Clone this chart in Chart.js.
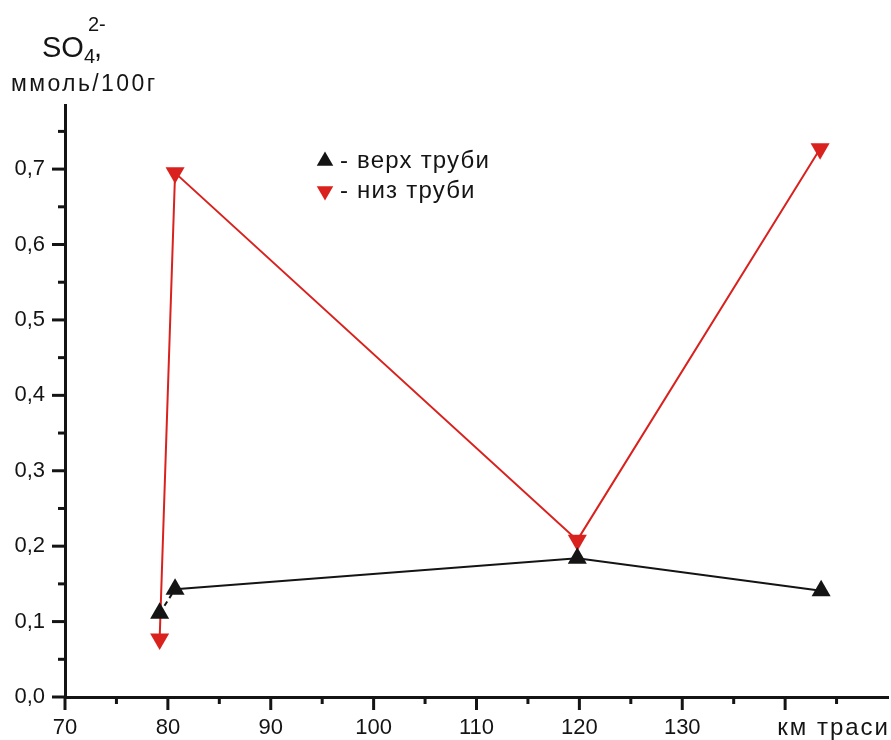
<!DOCTYPE html>
<html lang="uk">
<head>
<meta charset="UTF-8">
<title>SO4 вздовж траси</title>
<script src="https://cdn.jsdelivr.net/npm/chart.js"></script>
<style>
  html, body { margin: 0; padding: 0; background: #fff; }
</style>
</head>
<body>
<canvas id="so4Chart" width="891" height="740"></canvas>
<script>
// km along the route and SO4 content, mmol/100 g
const kmTop = [79.2, 80.7, 119.8, 143.5];
const so4Top = [0.111, 0.143, 0.184, 0.141];
const kmBottom = [79.2, 80.7, 119.8, 143.4];
const so4Bottom = [0.077, 0.695, 0.208, 0.727];
const seriesNames = ['- верх труби', '- низ труби'];
const xLabelled = [70, 80, 90, 100, 110, 120, 130];
const yLabelled = [0, 0.1, 0.2, 0.3, 0.4, 0.5, 0.6, 0.7];
const xAxisName = 'км траси';

const FONT = '"Liberation Sans", Arial, sans-serif';
const INK = '#141414';
const RED = '#d9221e';

const toPoints = (xs, ys) => xs.map((x, i) => ({ x: x, y: ys[i] }));

// tick marks: long at labelled values, short in between
const tickMarks = {
    id: 'tickMarks',
    afterDraw(chart) {
        const { ctx, chartArea, scales: { x, y } } = chart;
        ctx.save();
        ctx.strokeStyle = INK;
        ctx.lineWidth = 3;
        x.ticks.forEach(t => {
            if (t.value >= 150) return;
            const major = t.value % 10 === 0;
            const px = x.getPixelForValue(t.value);
            ctx.beginPath();
            ctx.moveTo(px, chartArea.bottom);
            ctx.lineTo(px, chartArea.bottom + (major ? 13 : 7));
            ctx.stroke();
        });
        y.ticks.forEach(t => {
            const k = t.value * 20;
            if (Math.abs(k - Math.round(k)) > 1e-6) return;
            const major = Math.round(k) % 2 === 0;
            const py = y.getPixelForValue(t.value);
            ctx.beginPath();
            ctx.moveTo(chartArea.left, py);
            ctx.lineTo(chartArea.left - (major ? 13 : 7), py);
            ctx.stroke();
        });
        // x axis name sits on the tick label line, right aligned
        ctx.fillStyle = INK;
        ctx.font = '24px ' + FONT;
        ctx.letterSpacing = '2px';
        ctx.textAlign = 'right';
        ctx.textBaseline = 'alphabetic';
        ctx.fillText(xAxisName, chartArea.right + 2, chartArea.bottom + 38);
        ctx.restore();
    }
};

// y axis title in the top left corner
const yTitle = {
    id: 'yTitle',
    afterDraw(chart) {
        const ctx = chart.ctx;
        ctx.save();
        ctx.fillStyle = INK;
        ctx.textAlign = 'left';
        ctx.textBaseline = 'alphabetic';
        ctx.font = '29px ' + FONT;
        ctx.fillText('SO', 42, 57);
        const w = ctx.measureText('SO').width;
        ctx.font = '20px ' + FONT;
        ctx.fillText('4', 42 + w, 63);
        ctx.fillText('2-', 42 + w + 4, 31);
        ctx.font = '29px ' + FONT;
        ctx.fillText(',', 42 + w + 10, 57);
        ctx.font = '23px ' + FONT;
        ctx.letterSpacing = '2.4px';
        ctx.fillText('ммоль/100г', 11, 91);
        ctx.restore();
    }
};

// legend inside the plot
const markerLegend = {
    id: 'markerLegend',
    afterDraw(chart) {
        const ctx = chart.ctx;
        ctx.save();
        ctx.font = '24px ' + FONT;
        ctx.letterSpacing = '1.2px';
        ctx.textBaseline = 'middle';
        ctx.textAlign = 'left';
        chart.data.datasets.forEach((ds, i) => {
            const cx = 325, cy = 161 + i * 30, r = 9.5;
            const dir = ds.pointRotation === 180 ? -1 : 1;
            ctx.fillStyle = ds.pointBackgroundColor;
            ctx.beginPath();
            ctx.moveTo(cx, cy - dir * r);
            ctx.lineTo(cx + r * 0.87, cy + dir * r * 0.5);
            ctx.lineTo(cx - r * 0.87, cy + dir * r * 0.5);
            ctx.closePath();
            ctx.fill();
            ctx.fillStyle = INK;
            ctx.fillText(ds.label, 340, cy);
        });
        ctx.restore();
    }
};

const ctx = document.getElementById('so4Chart').getContext('2d');
const so4Chart = new Chart(ctx, {
    type: 'line',
    data: {
        datasets: [{
            label: seriesNames[0],
            data: toPoints(kmTop, so4Top),
            borderColor: INK,
            borderWidth: 2,
            pointStyle: 'triangle',
            pointRotation: 0,
            pointRadius: 11,
            pointBackgroundColor: INK,
            pointBorderWidth: 0,
            segment: {
                borderDash: c => c.p0DataIndex === 0 ? [5, 4] : undefined
            }
        }, {
            label: seriesNames[1],
            data: toPoints(kmBottom, so4Bottom),
            borderColor: RED,
            borderWidth: 2,
            pointStyle: 'triangle',
            pointRotation: 180,
            pointRadius: 11,
            pointBackgroundColor: RED,
            pointBorderWidth: 0
        }]
    },
    options: {
        responsive: false,
        animation: false,
        devicePixelRatio: 1,
        layout: {
            autoPadding: false,
            padding: { top: 105, right: 3, left: 0, bottom: 0 }
        },
        plugins: {
            legend: { display: false },
            tooltip: { enabled: false }
        },
        scales: {
            x: {
                type: 'linear',
                min: 70,
                max: 150,
                border: { color: INK, width: 3 },
                grid: { drawOnChartArea: false, drawTicks: true, tickLength: 15, tickColor: 'rgba(0,0,0,0)' },
                ticks: {
                    stepSize: 5,
                    autoSkip: false,
                    maxRotation: 0,
                    padding: 3,
                    color: INK,
                    font: { family: FONT, size: 22 },
                    callback: v => xLabelled.includes(v) ? String(v) : ''
                },
                afterFit: s => { s.height = 43; }
            },
            y: {
                min: 0,
                max: 0.785,
                border: { color: INK, width: 3 },
                grid: { drawOnChartArea: false, drawTicks: false },
                ticks: {
                    stepSize: 0.05,
                    autoSkip: false,
                    padding: 20,
                    color: INK,
                    font: { family: FONT, size: 22 },
                    callback: v => {
                        const hit = yLabelled.find(l => Math.abs(l - v) < 1e-6);
                        return hit === undefined ? '' : hit.toFixed(1).replace('.', ',');
                    }
                },
                afterFit: s => { s.width = 65; }
            }
        }
    },
    plugins: [tickMarks, yTitle, markerLegend]
});
</script>
</body>
</html>
